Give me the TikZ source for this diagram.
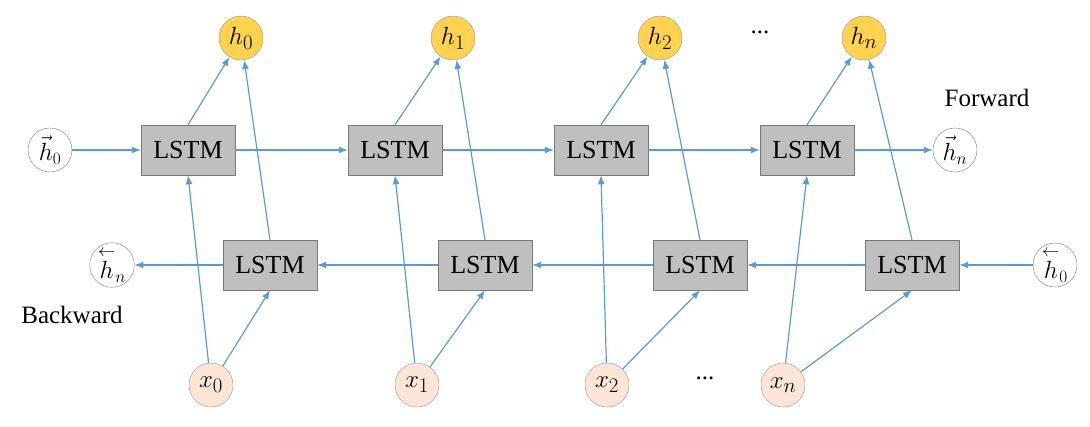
\documentclass[tikz,border=0pt]{standalone}
\usepackage{fontspec}
\setmainfont{Liberation Serif}
\usepackage{amsmath}
\usetikzlibrary{arrows.meta}
\begin{document}
\begin{tikzpicture}[x=1pt,y=-1pt,
  ln/.style={draw={rgb,255:red,91;green,155;blue,213},line width=1.2pt,-{Latex[length=9pt,width=7pt]}},
  box/.style={draw={rgb,255:red,120;green,120;blue,120},fill={rgb,255:red,191;green,191;blue,191},minimum width=94pt,minimum height=50pt,inner sep=0pt,font=\fontsize{26}{28}\selectfont},
  hc/.style={circle,draw={rgb,255:red,150;green,150;blue,150},fill={rgb,255:red,255;green,210;blue,80},minimum size=44pt,inner sep=0pt,font=\fontsize{28}{30}\selectfont},
  xc/.style={circle,draw={rgb,255:red,150;green,150;blue,150},fill={rgb,255:red,251;green,229;blue,214},minimum size=44pt,inner sep=0pt,font=\fontsize{28}{30}\selectfont},
  wc/.style={circle,draw={rgb,255:red,120;green,120;blue,120},fill=white,minimum size=44pt,inner sep=0pt,font=\fontsize{26}{28}\selectfont},
  lab/.style={font=\fontsize{25}{27}\selectfont}]
\useasboundingbox (0,0) rectangle (1090,426);
\foreach \i/\x in {0/241,1/453,2/660}{\node[hc] (h\i) at (\x,38) {$h_\i$};}
\node[hc] (h3) at (864,38) {$h_n$};
\foreach \i/\x in {0/188,1/395,2/601,3/807}{\node[box] (f\i) at (\x,150) {LSTM};}
\foreach \i/\x in {0/270,1/485,2/700,3/912}{\node[box] (b\i) at (\x,265) {LSTM};}
\foreach \i/\x in {0/211,1/417,2/607}{\node[xc] (x\i) at (\x,385) {$x_\i$};}
\node[xc] (x3) at (783,385) {$x_n$};
\node[wc] (fl) at (50,150) {$\vec{h}_0$};
\node[wc] (fr) at (955,150) {$\vec{h}_n$};
\node[wc] (bl) at (112,265) {$\overset{\leftarrow}{h}_n$};
\node[wc] (br) at (1055,265) {$\overset{\leftarrow}{h}_0$};
\node[lab] (d1) at (760,32) {...};
\node[lab] (d2) at (705,378) {...};
\node[lab] (fw) at (987,98) {Forward};
\node[lab] (bw) at (72,315) {Backward};
\draw[ln] (fl) -- (f0);
\draw[ln] (f0) -- (f1); \draw[ln] (f1) -- (f2); \draw[ln] (f2) -- (f3); \draw[ln] (f3) -- (fr);
\draw[ln] (br) -- (b3); \draw[ln] (b3) -- (b2); \draw[ln] (b2) -- (b1); \draw[ln] (b1) -- (b0); \draw[ln] (b0) -- (bl);
\foreach \i in {0,1,2,3}{
  \draw[ln] (x\i) -- (f\i.south);
  \draw[ln] (x\i) -- (b\i.south);
  \draw[ln] (f\i.north) -- (h\i);
  \draw[ln] (b\i.north) -- (h\i);
}
\end{tikzpicture}
\end{document}
